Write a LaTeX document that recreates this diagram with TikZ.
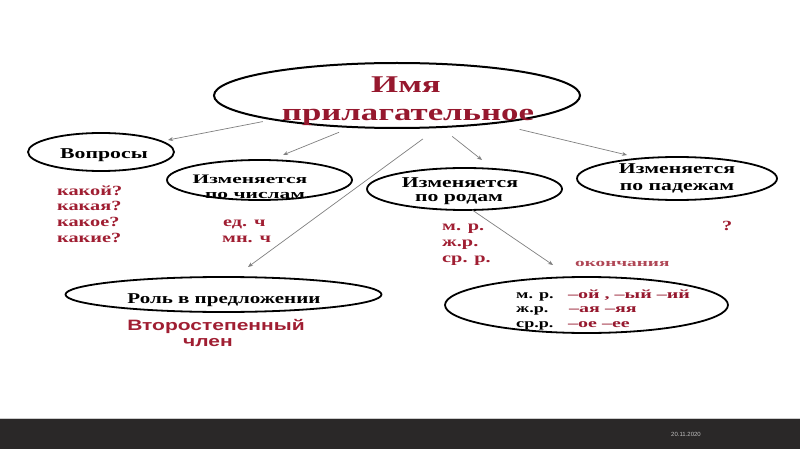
\documentclass[tikz,border=0pt]{standalone}
\usepackage{fontspec}
\usepackage{graphicx}
\setmainfont{Liberation Serif}
\setsansfont{Liberation Sans}
\usetikzlibrary{shapes.geometric,arrows.meta}
\definecolor{titlered}{RGB}{150,24,46}
\definecolor{listred}{RGB}{160,30,50}
\definecolor{softred}{RGB}{175,70,85}
\definecolor{barbg}{RGB}{42,40,40}
\newcommand\sx[2][1.45]{\scalebox{#1}[1]{#2}}
\tikzset{
  oval/.style={ellipse, draw=black, line width=1.8pt, inner sep=0pt, outer sep=0pt},
  arr/.style={draw=black!50, line width=0.7pt, -{Stealth[length=5pt,width=4pt]}},
  titletxt/.style={font=\bfseries\fontsize{24}{28}\selectfont, text=titlered, inner sep=0pt, anchor=base},
  lbl/.style={font=\bfseries\fontsize{15}{17}\selectfont, inner sep=0pt, anchor=base},
  smalllbl/.style={font=\bfseries\fontsize{13}{15}\selectfont, inner sep=0pt, anchor=base},
  redtxt/.style={font=\bfseries\fontsize{14}{16}\selectfont, text=listred, inner sep=0pt, anchor=base west},
  endtxt/.style={font=\bfseries\fontsize{12.5}{14}\selectfont, inner sep=0pt, anchor=base west},
  sanstxt/.style={font=\sffamily\bfseries\fontsize{15}{17}\selectfont, text=listred, inner sep=0pt, anchor=base},
  datetxt/.style={font=\sffamily\fontsize{6}{7}\selectfont, text=black!25, inner sep=0pt}
}
\begin{document}
\begin{tikzpicture}[x=1pt,y=-1pt]
\useasboundingbox (0,0) rectangle (800,449);
\fill[white] (0,0) rectangle (800,449);
% bottom bar
\fill[barbg] (0,419) rectangle (800,449);
\draw[black!20, line width=1pt] (0,418.5) -- (800,418.5);
\node[datetxt] (date) at (686,434) {20.11.2020};

% ellipses
\node[oval, line width=2pt, minimum width=366pt, minimum height=65pt] (main) at (397,95.5) {};
\node[oval, minimum width=146pt, minimum height=38pt] (q) at (101,152) {};
\node[oval, minimum width=185pt, minimum height=40pt] (num) at (259.5,180) {};
\node[oval, minimum width=195pt, minimum height=42pt] (rod) at (464.5,189) {};
\node[oval, minimum width=200pt, minimum height=43pt] (pad) at (677,178.5) {};
\node[oval, minimum width=316pt, minimum height=35pt] (role) at (223.5,294.5) {};
\node[oval, minimum width=283pt, minimum height=56pt] (endg) at (586.5,305) {};

% title
\node[titletxt] (t1) at (406,93) {\sx{Имя}};
\node[titletxt] (t2) at (408,121) {\sx{прилагательное}};

% ellipse labels
\node[lbl] (qt) at (104,159) {\sx{Вопросы}};
\node[smalllbl] (numa) at (250,184) {\sx[1.65]{Изменяется}};
\node[smalllbl] (numb) at (255,198) {\sx[1.65]{по числам}};
\node[lbl] (roda) at (460,188) {\sx{Изменяется}};
\node[lbl] (rodb) at (459,202) {\sx{по родам}};
\node[lbl] (pada) at (677,174) {\sx{Изменяется}};
\node[lbl] (padb) at (677,191) {\sx{по падежам}};
\node[lbl] (rolet) at (224,303) {\sx[1.4]{Роль в предложении}};

% red lists
\node[redtxt] (k1) at (57,196) {\sx{какой?}};
\node[redtxt] (k2) at (57,211) {\sx{какая?}};
\node[redtxt] (k3) at (57,226) {\sx{какое?}};
\node[redtxt] (k4) at (57,242) {\sx{какие?}};
\node[redtxt] (n1) at (223,226) {\sx{ед. ч}};
\node[redtxt] (n2) at (222,242) {\sx{мн. ч}};
\node[redtxt] (g1) at (442,230) {\sx{м. р.}};
\node[redtxt] (g2) at (442,246) {\sx{ж.р.}};
\node[redtxt] (g3) at (442,262) {\sx{ср. р.}};
\node[redtxt] (qm) at (722,230) {\sx{?}};
\node[redtxt, font=\bfseries\fontsize{11}{13}\selectfont, text=softred] (ok) at (575,266) {\sx[1.75]{окончания}};
\node[sanstxt] (vt1) at (216,330) {\sx[1.4]{Второстепенный}};
\node[sanstxt] (vt2) at (208,346) {\sx[1.4]{член}};

% endings
\node[endtxt] (e1) at (516,298) {\sx{м. р.}};
\node[endtxt, text=titlered] (e1b) at (568,298) {\sx[1.6]{–ой , –ый –ий}};
\node[endtxt] (e2) at (516,312) {\sx{ж.р.}};
\node[endtxt, text=titlered] (e2b) at (569,312) {\sx[1.6]{–ая –яя}};
\node[endtxt] (e3) at (516,327) {\sx{ср.р.}};
\node[endtxt, text=titlered] (e3b) at (568,327) {\sx[1.6]{–ое –ее}};

% arrow tips
\coordinate (tipQ) at (168,140);
\coordinate (tipN) at (283,155);
\coordinate (tipRole) at (248,267);
\coordinate (tipRod) at (482,160);
\coordinate (tipPad) at (627,155);
\coordinate (tipEnd) at (553,265);

\draw[arr, shorten <=11pt] (main.191) -- (tipQ);
\draw[arr, shorten <=14pt] (main.215) -- (tipN);
\draw[arr, shorten <=20pt] (main.323) -- (tipRole);
\draw[arr, shorten <=15pt] (main.324) -- (tipRod);
\draw[arr, shorten <=27pt] (main.344) -- (tipPad);
\draw[arr] (rod.290) -- (tipEnd);
\end{tikzpicture}
\end{document}
